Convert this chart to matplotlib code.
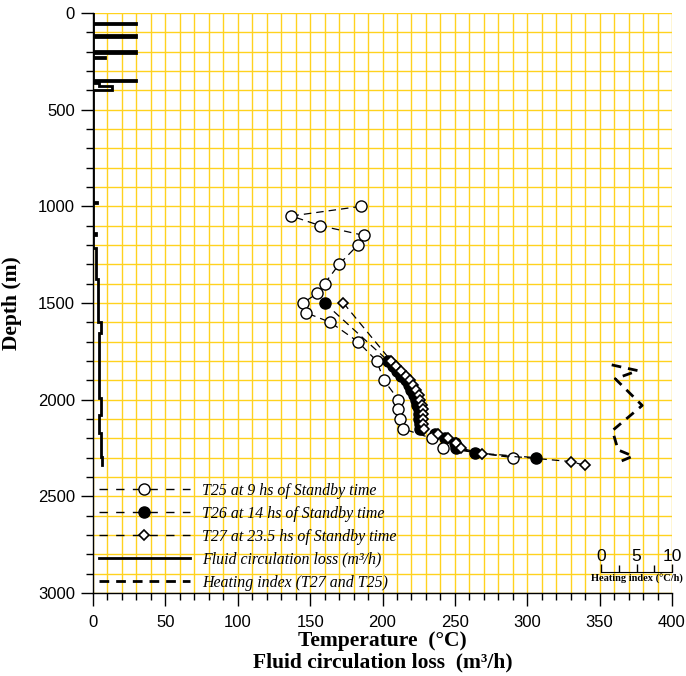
import matplotlib
matplotlib.use("Agg")
import matplotlib.pyplot as plt
from matplotlib.ticker import MultipleLocator
from matplotlib.lines import Line2D
import matplotlib.transforms as mtransforms

# ---------------- data ----------------
t25_depth = [1000, 1050, 1100, 1150, 1200, 1300, 1400, 1450, 1500, 1550, 1600, 1700,
             1800, 1900, 2000, 2050, 2100, 2150, 2200, 2250, 2300]
t25_temp = [185, 137, 157, 187, 183, 170, 160, 155, 145, 147, 164, 183,
            196, 201, 211, 211, 212, 214, 234, 242, 290]

t26_depth = [1500, 1800, 1825, 1850, 1875, 1900, 1925, 1950, 1975, 2000, 2025, 2050,
             2075, 2100, 2125, 2150, 2175, 2200, 2225, 2250, 2275, 2300]
t26_temp = [160, 204, 207, 210, 213, 216, 218, 220, 222, 223, 224, 225,
            225, 225, 226, 226, 236, 243, 250, 251, 264, 306]

t27_depth = [1500, 1800, 1825, 1850, 1875, 1900, 1925, 1950, 1975, 2000, 2025, 2050,
             2075, 2100, 2125, 2150, 2175, 2200, 2225, 2250, 2280, 2320, 2340]
t27_temp = [173, 206, 209, 213, 216, 219, 221, 223, 225, 226, 227, 228,
            228, 228, 228, 229, 238, 245, 251, 254, 269, 330, 340]

loss_depth = [0, 50, 50, 58, 58, 115, 115, 123, 123, 197, 197, 205, 205, 227, 227, 233, 233,
              346, 346, 354, 354, 363, 363, 377, 377, 398, 398, 975, 975, 982, 982,
              1140, 1140, 1147, 1147, 1216, 1216, 1376, 1376, 1597, 1597, 1657, 1657,
              1992, 1992, 2080, 2080, 2173, 2173, 2295, 2295, 2340]
loss_value = [0, 0, 30, 30, 0, 0, 30, 30, 0, 0, 30, 30, 0, 0, 8, 8, 0,
              0, 30, 30, 0, 0, 4, 4, 13, 13, 0, 0, 2.5, 2.5, 0,
              0, 2, 2, 0, 0, 2.2, 2.2, 3.3, 3.3, 5.5, 5.5, 4.1,
              4.1, 5.5, 5.5, 4.1, 4.1, 5.2, 5.2, 6.4, 6.4]

hi_depth = [1820, 1850, 1892, 2030, 2160, 2260, 2292, 2320]
hi_value = [1.5, 5.2, 2.0, 5.8, 1.6, 2.4, 4.5, 2.7]

x_ticks = [0, 50, 100, 150, 200, 250, 300, 350, 400]
y_ticks = [0, 500, 1000, 1500, 2000, 2500, 3000]
hi_ticks = [0, 5, 10]

legend_labels = ["T25 at 9 hs of Standby time",
                 "T26 at 14 hs of Standby time",
                 "T27 at 23.5 hs of Standby time",
                 "Fluid circulation loss (m\u00b3/h)",
                 "Heating index (T27 and T25)"]

# ---------------- figure ----------------
SERIF = ["Liberation Serif", "DejaVu Serif"]
SANS = ["Liberation Sans", "DejaVu Sans"]
plt.rcParams['font.family'] = SANS

fig = plt.figure(figsize=(6.86, 6.76), dpi=100)
ax = fig.add_axes([93/686, 1-593/676, 579/686, 580/676])

ax.set_xlim(0, 400)
ax.set_ylim(3000, 0)
ax.set_xticks(x_ticks)
ax.set_yticks(y_ticks)
ax.xaxis.set_minor_locator(MultipleLocator(10))
ax.yaxis.set_minor_locator(MultipleLocator(100))
grid_c = '#FFD21F'
ax.grid(which='both', color=grid_c, lw=1.0, zorder=0)
ax.set_axisbelow(True)
for s in ['top', 'right']:
    ax.spines[s].set_visible(False)
ax.spines['left'].set_linewidth(1.0)
ax.spines['bottom'].set_linewidth(1.0)
ax.tick_params(which='major', length=9, width=1, labelsize=12)
ax.tick_params(axis='x', which='major', pad=7)
ax.tick_params(axis='y', which='major', pad=4)
ax.tick_params(which='minor', length=5, width=1)

dash_kw = dict(color='black', lw=0.9, linestyle=(0, (6, 4)))
ax.plot(t25_temp, t25_depth, marker='o', ms=8, mfc='white', mec='black', mew=1.0,
        zorder=4, **dash_kw)
ax.plot(t26_temp, t26_depth, marker='o', ms=8, mfc='black', mec='black', mew=1.0,
        zorder=3, **dash_kw)
ax.plot(t27_temp, t27_depth, marker='D', ms=5.5, mfc='white', mec='black', mew=1.2,
        zorder=5, **dash_kw)
ax.plot(loss_value, loss_depth, color='black', lw=2.0, solid_joinstyle='miter', zorder=3)

# heating index inset (own scale)
HI_BOTTOM_DEPTH = 2892
blend = mtransforms.blended_transform_factory(ax.transData, ax.transAxes)
frac = (3000 - HI_BOTTOM_DEPTH) / 3000
hax = ax.inset_axes([351, frac, 49, 1 - frac], transform=blend)
hax.patch.set_alpha(0)
hax.set_xlim(0, 10)
hax.set_ylim(HI_BOTTOM_DEPTH, 0)
for s in ['left', 'right', 'bottom']:
    hax.spines[s].set_visible(False)
hax.spines['top'].set_position(('axes', 0))
hax.xaxis.tick_top()
hax.set_xticks(hi_ticks)
hax.xaxis.set_minor_locator(MultipleLocator(2.5))
hax.tick_params(axis='x', which='major', length=6, width=1, labelsize=12.5, pad=0)
hax.tick_params(axis='x', which='minor', length=5, width=1)
hax.set_yticks([])
hax.plot(hi_value, hi_depth, color='black', lw=2.0, linestyle=(0, (3.5, 2.5)))
hax.text(0.5, -0.003, "Heating index (\u00b0C/h)", transform=hax.transAxes,
         ha='center', va='top', fontsize=7.5, fontweight='bold', family=SERIF)

# labels
ax.set_ylabel("Depth (m)", fontsize=15.5, fontweight='bold', family=SERIF)
ax.yaxis.set_label_coords((22 - 93) / 579, 0.5)
fig.text(0.5 * (93 + 672) / 686, 1 - 641/676, "Temperature  (\u00b0C)", ha='center', va='center',
         fontsize=15.5, fontweight='bold', family=SERIF)
fig.text(0.5 * (93 + 672) / 686, 1 - 662/676, "Fluid circulation loss  (m\u00b3/h)", ha='center',
         va='center', fontsize=15.5, fontweight='bold', family=SERIF)

# legend
ldash = (0, (6, 6))
handles = [
    Line2D([], [], marker='o', ms=8, mfc='white', mec='black', color='black', lw=1.0,
           linestyle=ldash),
    Line2D([], [], marker='o', ms=8, mfc='black', mec='black', color='black', lw=1.0,
           linestyle=ldash),
    Line2D([], [], marker='D', ms=5.5, mfc='white', mec='black', mew=1.2, color='black',
           lw=1.0, linestyle=ldash),
    Line2D([], [], color='black', lw=2.0),
    Line2D([], [], color='black', lw=2.0, linestyle=(0, (3.5, 2.5))),
]
leg = ax.legend(handles, legend_labels, loc='lower left', bbox_to_anchor=(0.01, 0.004),
                frameon=False, numpoints=1, handlelength=5.75, handletextpad=0.76,
                labelspacing=0.44, borderpad=0, borderaxespad=0,
                prop={'family': SERIF, 'style': 'italic', 'size': 11.4})

fig.savefig("out.png", dpi=100)
